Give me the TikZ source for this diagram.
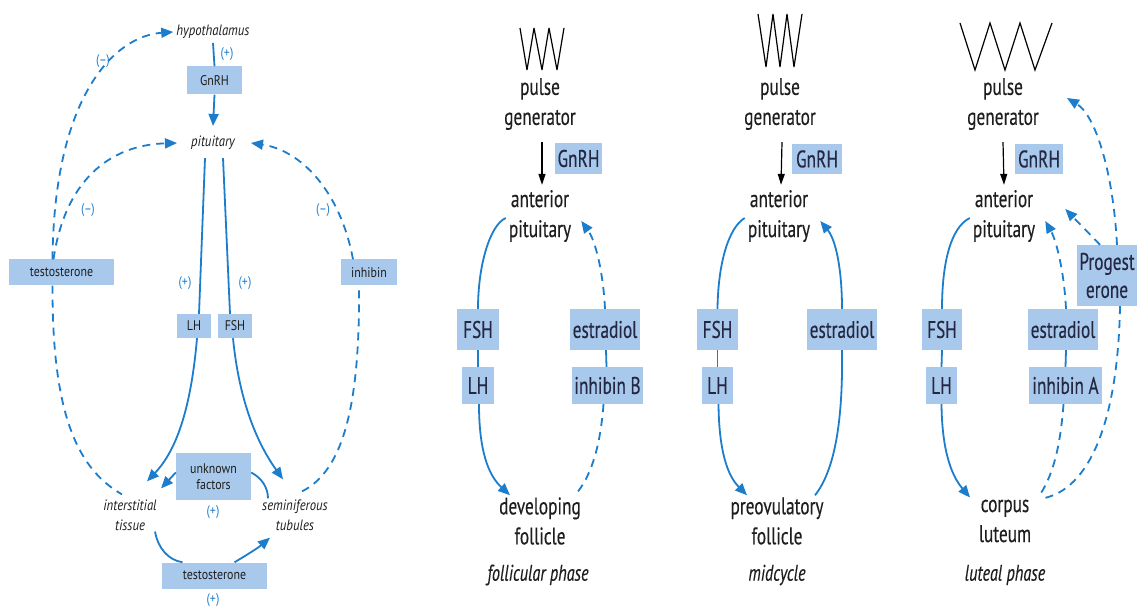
\documentclass[tikz,border=0pt]{standalone}
\usepackage{fontspec}
\setmainfont{PT Sans}
\newfontfamily\rf{PT Sans}[FakeStretch=0.72,FakeBold=0.3]
\newfontfamily\lf{PT Sans}[FakeStretch=0.85]
\usetikzlibrary{arrows.meta}
\definecolor{boxblue}{RGB}{168,200,236}
\definecolor{lineblue}{RGB}{28,125,205}
\definecolor{txt}{RGB}{30,30,30}
\definecolor{btxt}{RGB}{36,40,66}
\tikzset{
  ln/.style={draw=lineblue, line width=1.8pt},
  dl/.style={ln, dash pattern=on 8pt off 6pt},
  tip/.style={-{Triangle[length=12pt,width=10pt]}},
  btip/.style={-{Triangle[length=11pt,width=7pt]}},
  lbox/.style={fill=boxblue, inner sep=0pt, font=\lf\fontsize{14}{16}\selectfont, text=txt},
  ltx/.style={inner sep=0pt, font=\lf\itshape\fontsize{15}{20}\selectfont, text=txt, align=center},
  sgn/.style={inner sep=0pt, font=\lf\fontsize{14}{16}\selectfont, text=lineblue},
  rbox/.style={fill=boxblue, inner sep=0pt, font=\rf\fontsize{24}{28}\selectfont, text=btxt},
  rtx/.style={inner sep=0pt, font=\rf\fontsize{24}{30}\selectfont, text=txt, align=center},
  rit/.style={inner sep=0pt, font=\rf\itshape\fontsize{22.5}{28}\selectfont, text=txt},
  zz/.style={draw=black, line width=1.2pt, line join=miter, miter limit=4},
  blk/.style={draw=black, line width=1.2pt, btip},
}
\begin{document}
\begin{tikzpicture}[x=1pt,y=-1pt]
\useasboundingbox[fill=white] (0,0) rectangle (1137,609);

% ================= LEFT PANEL =================
\node[ltx] (hyp) at (213,32) {hypothalamus};
\node[lbox, minimum width=55, minimum height=28] (gnL) at (214.5,80.5) {GnRH};
\node[ltx] (pit) at (213,143) {pituitary};
\node[lbox, minimum width=34, minimum height=24] (lhL) at (194,326) {LH};
\node[lbox, minimum width=34, minimum height=24] (fshL) at (235,326) {FSH};
\node[lbox, minimum width=105, minimum height=26] (teL) at (61.5,272.5) {testosterone};
\node[lbox, minimum width=56, minimum height=26] (inhL) at (369,272.5) {inhibin};
\node[lbox, minimum width=75, minimum height=47, align=center] (unk) at (213.5,476.5) {unknown\\factors};
\node[lbox, minimum width=105, minimum height=26] (teB) at (214.5,575.5) {testosterone};
\node[ltx] (int) at (130,515) {interstitial\\tissue};
\node[ltx] (sem) at (295,515) {seminiferous\\tubules};

\node[sgn] (s1) at (227,54) {(+)};
\node[sgn] (s2) at (103,61) {(–)};
\node[sgn] (s3) at (88,210) {(–)};
\node[sgn] (s4) at (323,210) {(–)};
\node[sgn] (s5) at (185,283) {(+)};
\node[sgn] (s6) at (245,283) {(+)};
\node[sgn] (s7) at (213,512) {(+)};
\node[sgn] (s8) at (213,600) {(+)};

\draw[ln] ([yshift=-4]hyp.south) -- (gnL.north);
\draw[ln,tip] (gnL.south) -- ([yshift=10]pit.north);
\draw[ln] ([xshift=-8,yshift=-8]pit.south) -- ([xshift=5]lhL.north);
\draw[ln] ([xshift=10,yshift=-8]pit.south) -- ([xshift=-5]fshL.north);
\draw[ln,tip] ([xshift=3]lhL.south) .. controls (190,420) and (172,455) .. ([xshift=17,yshift=18]int.north);
\draw[ln,tip] ([xshift=-2]fshL.south) .. controls (240,410) and (262,450) .. ([xshift=-12,yshift=20]sem.north);
\draw[ln,tip] ([yshift=4]unk.west) -- ([xshift=31,yshift=11]int.north);
\draw[ln] ([yshift=4]unk.east) .. controls (262,478) and (268,488) .. ([xshift=-27,yshift=1]sem.north);
\draw[ln] ([xshift=25,yshift=-1]int.south) .. controls (158,548) and (168,560) .. ([xshift=-32]teB.north);
\draw[ln,tip] ([xshift=20]teB.north) .. controls (245,556) and (258,548) .. ([xshift=-25,yshift=-7]sem.south);

\draw[dl,tip] ([xshift=-9]teL.north) .. controls (54,95) and (115,36) .. ([xshift=-3]hyp.west);
\draw[dl,tip] ([xshift=-8]teL.north) .. controls (65,180) and (110,145) .. ([xshift=-14]pit.west);
\draw[dl] ([xshift=-9]teL.south) .. controls (52,420) and (80,470) .. ([xshift=-8,yshift=5]int.north);
\draw[dl] ([xshift=7,yshift=8]sem.north) .. controls (345,470) and (360,400) .. ([xshift=-10]inhL.south);
\draw[dl,tip] ([xshift=-16]inhL.north) .. controls (340,190) and (300,150) .. ([xshift=16]pit.east);

% ================= PANEL 1: follicular =================
\draw[zz] (520,28) -- (527,70) -- (534,28) -- (542,70) -- (549,28) -- (557,70) -- (564,28);
\node[rtx] (pg1) at (540,104) {pulse\\generator};
\node[rbox, minimum width=47, minimum height=31] (gn1) at (578.5,158.5) {GnRH};
\node[rtx] (ap1) at (540,216) {anterior\\pituitary};
\node[rbox, minimum width=42, minimum height=41] (fsh1) at (478,329.5) {FSH};
\node[rbox, minimum width=32, minimum height=37] (lh1) at (478,385.5) {LH};
\node[rbox, minimum width=70, minimum height=41] (es1) at (605,329.5) {estradiol};
\node[rbox, minimum width=71, minimum height=37] (ib1) at (607.5,385.5) {inhibin B};
\node[rtx] (df1) at (540,521) {developing\\follicle};
\node[rit] (ph1) at (538,575) {follicular phase};

\draw[blk] ([xshift=2,yshift=-12]pg1.south) -- ([xshift=2,yshift=5]ap1.north);
\draw[ln] ([xshift=-3,yshift=-2]ap1.west) .. controls (490,225) and (478,265) .. (fsh1.north);
\draw[ln] (fsh1.south) -- (lh1.north);
\draw[ln,tip] ([xshift=1]lh1.south) .. controls (479,450) and (488,475) .. ([xshift=-30,yshift=2]df1.north);
\draw[dl,tip] (es1.north) .. controls (603,270) and (595,240) .. ([xshift=10,yshift=-5]ap1.east);
\draw[ln] ([xshift=1]es1.south) -- ([xshift=-1]ib1.north);
\draw[dl] ([xshift=-4]ib1.south) .. controls (600,450) and (590,478) .. ([xshift=35,yshift=2]df1.north);

% ================= PANEL 2: midcycle =================
\draw[zz] (758,14) -- (766,67) -- (773,14) -- (780,67) -- (787,14) -- (794,67) -- (802,14);
\node[rtx] (pg2) at (780,104) {pulse\\generator};
\node[rbox, minimum width=50, minimum height=30] (gn2) at (817,159) {GnRH};
\node[rtx] (ap2) at (779,216) {anterior\\pituitary};
\node[rbox, minimum width=41, minimum height=41] (fsh2) at (717.5,329.5) {FSH};
\node[rbox, minimum width=31, minimum height=37] (lh2) at (717.5,385.5) {LH};
\node[rbox, minimum width=70, minimum height=41] (es2) at (842,329.5) {estradiol};
\node[rtx] (pf2) at (777,521) {preovulatory\\follicle};
\node[rit] (ph2) at (777,575) {midcycle};

\draw[blk] ([xshift=2,yshift=-12]pg2.south) -- ([xshift=2,yshift=5]ap2.north);
\draw[ln] ([xshift=-3,yshift=-2]ap2.west) .. controls (728,228) and (718,265) .. (fsh2.north);
\draw[ln] (fsh2.south) -- (lh2.north);
\draw[ln,tip] ([xshift=1]lh2.south) .. controls (719,450) and (727,475) .. ([xshift=-30,yshift=2]pf2.north);
\draw[ln,tip] (es2.north) .. controls (842,270) and (836,240) .. ([xshift=10,yshift=-5]ap2.east);
\draw[ln] (es2.south) .. controls (843,420) and (835,470) .. ([xshift=38,yshift=2]pf2.north);

% ================= PANEL 3: luteal =================
\draw[zz] (960,23) -- (975,70) -- (990,23) -- (1005,70) -- (1020,23) -- (1035,70) -- (1052,23);
\node[rtx] (pg3) at (1003,104) {pulse\\generator};
\node[rbox, minimum width=48, minimum height=30] (gn3) at (1039,159) {GnRH};
\node[rtx] (ap3) at (1004,216) {anterior\\pituitary};
\node[rbox, minimum width=40, minimum height=41] (fsh3) at (942,329.5) {FSH};
\node[rbox, minimum width=31, minimum height=37] (lh3) at (941.5,385.5) {LH};
\node[rbox, minimum width=70, minimum height=41] (es3) at (1063,329.5) {estradiol};
\node[rbox, minimum width=73, minimum height=37] (ia3) at (1065.5,385.5) {inhibin A};
\node[rbox, minimum width=60, minimum height=61, align=center] (pr3) at (1107,275.5) {Progest\\erone};
\node[rtx] (cl3) at (1005,521) {corpus\\luteum};
\node[rit] (ph3) at (1005,575) {luteal phase};

\draw[blk] ([xshift=0,yshift=-12]pg3.south) -- ([xshift=0,yshift=5]ap3.north);
\draw[ln] ([xshift=-3,yshift=-2]ap3.west) .. controls (950,228) and (942,265) .. (fsh3.north);
\draw[ln] (fsh3.south) -- (lh3.north);
\draw[ln,tip] ([xshift=0]lh3.south) .. controls (942,450) and (951,475) .. ([xshift=-35,yshift=2]cl3.north);
\draw[dl,tip] ([xshift=3]es3.north) .. controls (1064,270) and (1056,240) .. ([xshift=10,yshift=-5]ap3.east);
\draw[ln] ([xshift=3]es3.south) -- ([xshift=0]ia3.north);
\draw[dl] ([xshift=-2]ia3.south) .. controls (1060,450) and (1052,478) .. ([xshift=33,yshift=2]cl3.north);
\draw[dl,tip] ([xshift=-7]pr3.north) -- ([xshift=30,yshift=7]ap3.east);
\draw[dl,tip] ([xshift=10]pr3.north) .. controls (1113,170) and (1095,115) .. ([xshift=28,yshift=6]pg3.east);
\draw[dl] ([xshift=13]pr3.south) .. controls (1118,420) and (1090,490) .. ([xshift=37,yshift=1]cl3.north);
\end{tikzpicture}
\end{document}
